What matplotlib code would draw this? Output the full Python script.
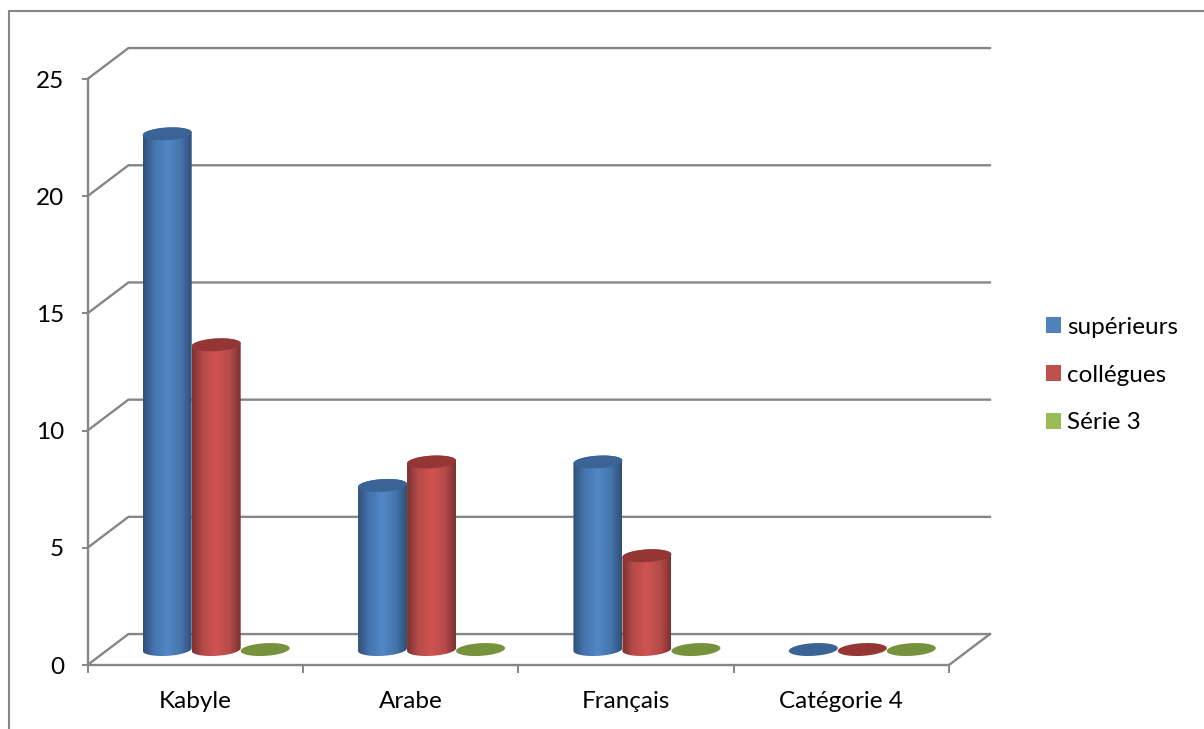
import numpy as np
from matplotlib import pyplot as plt
from matplotlib.colors import LinearSegmentedColormap
from matplotlib.lines import Line2D
from matplotlib.patches import Patch, Polygon

plt.rcParams['font.family'] = ['Lato', 'DejaVu Sans']

categories = ['Kabyle', 'Arabe', 'Français', 'Catégorie 4']
superieurs = [22, 7, 8, 0]
collegues = [13, 8, 4, 0]
serie3 = [0, 0, 0, 0]
y_ticks = [0, 5, 10, 15, 20, 25]

series_names = ['supérieurs', 'collégues', 'Série 3']
series_values = [superieurs, collegues, serie3]
flat_colors = ['#4f81bd', '#c0504d', '#9bbb59']
top_colors = ['#3a6496', '#943634', '#76923c']
edge_colors = ['#2f4f78', '#7c3130', '#5f7830']
mid_colors = ['#5287c6', '#cf5452', '#a5c860']
shade_colors = ['#4474ac', '#b54b49', '#8ca850']

grid_color = '#868686'
depth_x, depth_y = 0.19, 1.32   # back wall offset
base_y = 0.66                   # cylinders stand this far up the floor
col_w = 0.2275
first_col = 0.37                # centre of first cylinder in a group
half_h, shear = 0.27, 0.06

W, H = 1204, 729
fig = plt.figure(figsize=(W / 100, H / 100), dpi=100)
ax = fig.add_axes([87.5 / W, (H - 665) / H, 861.5 / W, 586 / H])
ax.set_xlim(0, 4)
ax.set_ylim(0, 25)

# back wall lines, with the slanted bit on the side wall
for v in y_ticks:
    ax.plot([0, depth_x, 4 + depth_x], [v, v + depth_y, v + depth_y],
            color=grid_color, lw=1.7, clip_on=False, zorder=1,
            solid_joinstyle='miter')
ax.plot([4, 4 + depth_x], [0, depth_y], color=grid_color, lw=1.7,
        clip_on=False, zorder=1)


def arc(cx, cy, t):
    return np.column_stack([cx + col_w / 2 * np.cos(t),
                            cy + half_h * np.sin(t) + shear * np.cos(t)])


def cylinder(cx, value, s):
    bottom = base_y
    top = base_y + value
    z = 3 + s
    if value > 0:
        outline = np.vstack([arc(cx, bottom, np.linspace(np.pi, 2 * np.pi, 40)),
                             arc(cx, top, np.linspace(0, np.pi, 40))])
        cmap = LinearSegmentedColormap.from_list(
            'c', [(0, edge_colors[s]), (0.22, shade_colors[s]),
                  (0.5, mid_colors[s]), (0.78, shade_colors[s]),
                  (1, edge_colors[s])])
        grad = np.linspace(0, 1, 120).reshape(1, -1)
        im = ax.imshow(grad, cmap=cmap, aspect='auto', zorder=z,
                       extent=(cx - col_w / 2, cx + col_w / 2,
                               bottom - 1, top + 1))
        im.set_clip_path(Polygon(outline, transform=ax.transData))
    cap = Polygon(arc(cx, top, np.linspace(0, 2 * np.pi, 80)), closed=True,
                  facecolor=top_colors[s], edgecolor='none', zorder=z + 0.5)
    ax.add_patch(cap)


for c in range(len(categories)):
    for s in range(len(series_values)):
        cylinder(c + first_col + s * col_w, series_values[s][c], s)

ax.set_xlim(0, 4)
ax.set_ylim(0, 25)

for side in ['top', 'right']:
    ax.spines[side].set_visible(False)
for side in ['left', 'bottom']:
    ax.spines[side].set_color(grid_color)
    ax.spines[side].set_linewidth(1.7)
    ax.spines[side].set_zorder(2)

ax.set_yticks(y_ticks)
ax.tick_params(axis='y', length=4, width=1.4, color=grid_color, pad=13,
               labelsize=17.5, labelcolor='black')
ax.set_xticks(range(5))
ax.set_xticklabels([])
ax.set_xticks(np.arange(4) + 0.5, categories, minor=True)
ax.tick_params(axis='x', which='major', length=6, width=1.4, color=grid_color)
ax.tick_params(axis='x', which='minor', length=0, pad=18.5, labelsize=17.5,
               labelcolor='black')

handles = [Patch(facecolor=col, edgecolor='none') for col in flat_colors]
fig.legend(handles, series_names, loc='center left',
           bbox_to_anchor=(1039 / W, 1 - 375 / H), frameon=False, fontsize=17.5,
           handlelength=0.62, handleheight=0.62, handletextpad=0.22,
           labelspacing=1.11, borderpad=0.3, borderaxespad=0)

# chart area border, open at the bottom and right
fig.add_artist(Line2D([8.5 / W, 8.5 / W, 1], [0, 1 - 10.5 / H, 1 - 10.5 / H],
                      color=grid_color, lw=1.5))

fig.savefig('out.png', dpi=100)
